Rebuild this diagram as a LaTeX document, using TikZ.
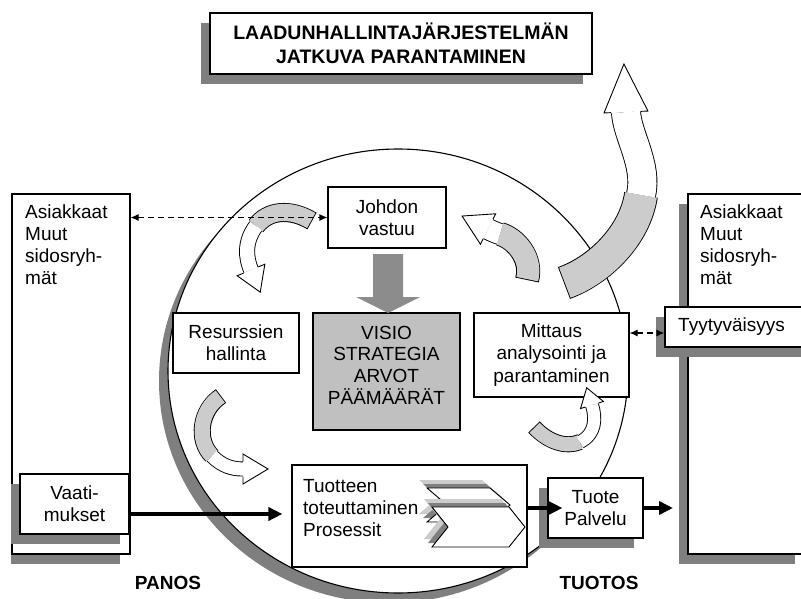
\documentclass[tikz,border=0pt]{standalone}
\usepackage{fontspec}
\setmainfont{Liberation Sans}
\usetikzlibrary{calc,arrows.meta,shadows}
\definecolor{shgray}{HTML}{7F7F7F}
\definecolor{arrgray}{HTML}{CCCCCC}
\definecolor{visgray}{HTML}{C0C0C0}
\definecolor{bigarr}{HTML}{8C8C8C}

% curved block arrow: uses coordinates aS,aC1,aC2,aM,aC3,aC4,aE
% #1 width of grey part, #2 width of white part, #3 half band width at end,
% #4 half head width, #5 head length
\newcommand{\curvarrow}[5]{%
  \draw[line width=#1, black] (aS) .. controls (aC1) and (aC2) .. (aM);
  \draw[line width=#2, black] (aM) .. controls (aC3) and (aC4) .. (aE);
  \draw[line width=#1-1.8pt, arrgray, shorten <=0.9pt] (aS) .. controls (aC1) and (aC2) .. (aM);
  \draw[line width=#2-1.8pt, white] (aM) .. controls (aC3) and (aC4) .. (aE);
  \coordinate (bL) at ($(aE)!#3!90:(aC4)$);
  \coordinate (bR) at ($(aE)!#3!-90:(aC4)$);
  \coordinate (hL) at ($(aE)!#4!90:(aC4)$);
  \coordinate (hR) at ($(aE)!#4!-90:(aC4)$);
  \coordinate (hT) at ($(aE)!-#5!(aC4)$);
  \fill[white] (hL) -- (hT) -- (hR) -- cycle;
  \draw[line width=0.9pt, line join=miter] (bL) -- (hL) -- (hT) -- (hR) -- (bR);
}
% chevron: #1,#2 top-left, #3 body length, #4 point depth, #5 half height, #6 options
\newcommand{\chevron}[6]{%
  \draw[#6] (#1,#2) -- ++(#3,0) -- ++(#4,#5) -- ++(-#4,#5) -- ++(-#3,0) -- ++(#4,-#5) -- cycle;
}

\begin{document}
\begin{tikzpicture}[x=1pt,y=-1pt,
  txt/.style={font=\fontsize{19}{22}\selectfont},
  box/.style={draw=black, line width=1.1pt, fill=white, txt, inner sep=0pt, align=center},
  shbox/.style={box, drop shadow={shadow xshift=-9pt, shadow yshift=-10pt, fill=shgray, opacity=1}},
  fatarrow/.style={line width=3.5pt, -{Triangle[length=14pt,width=13pt]}},
  dasharrow/.style={line width=1.1pt, dash pattern=on 6pt off 4pt,
     {Latex[length=8pt,width=7pt]}-{Latex[length=8pt,width=7pt]}},
  lbl/.style={font=\bfseries\fontsize{19}{22}\selectfont, inner sep=0pt}]
\useasboundingbox (0,0) rectangle (801,599);

% title
\node[shbox, line width=2pt, minimum width=382pt, minimum height=61pt,
  font=\bfseries\fontsize{19.5}{24.5}\selectfont] (title) at (401,43.5)
  {LAADUNHALLINTAJÄRJESTELMÄN\\JATKUVA PARANTAMINEN};

% big circle
\fill[shgray] (389,381) ellipse [x radius=230pt, y radius=222pt];
\draw[line width=1.1pt, fill=white] (398,371) ellipse [x radius=230pt, y radius=222pt];

% left stakeholders box
\fill[shgray] (11,204) rectangle (120,564);
\node[box, minimum width=118pt, minimum height=360pt] (leftbox) at (71,374) {};
\node[txt, anchor=north west, align=left, inner sep=0pt] (lefttxt) at (25,205)
  {Asiakkaat\\Muut\\sidosryh-\\mät};
\node[shbox, minimum width=109pt, minimum height=60pt] (vaati) at (74.5,504) {Vaati-\\mukset};

% right stakeholders box
\node[shbox, minimum width=116pt, minimum height=360pt] (rightbox) at (746,374) {};
\node[txt, anchor=north west, align=left, inner sep=0pt] (righttxt) at (700,205)
  {Asiakkaat\\Muut\\sidosryh-\\mät};
\node[shbox, minimum width=145pt, minimum height=40pt] (tyyty) at (737.5,327) {};
\node[txt, anchor=west, inner sep=0pt] (tyytytxt) at (678,327) {Tyytyväisyys};

% inner boxes
\node[box, minimum width=118pt, minimum height=61pt] (johdon) at (387,217.5) {Johdon\\vastuu};
\node[box, minimum width=126pt, minimum height=60pt] (resurssi) at (236,343) {Resurssien\\hallinta};
\node[box, fill=visgray, minimum width=147pt, minimum height=117pt] (visio) at (386.5,371.5) {};
\node[txt, align=center, inner sep=0pt, font=\fontsize{19}{21.7}\selectfont] (visiotxt) at (386.5,365)
  {VISIO\\STRATEGIA\\ARVOT\\PÄÄMÄÄRÄT};
\node[box, minimum width=155pt, minimum height=84pt, font=\fontsize{19}{22.5}\selectfont] (mittaus) at (551.5,355)
  {Mittaus\\analysointi ja\\parantaminen};
\node[box, minimum width=235pt, minimum height=102pt] (tuotteen) at (409.5,516) {};
\node[txt, anchor=west, align=left, inner sep=0pt] (tuotteentxt) at (303,508)
  {Tuotteen\\toteuttaminen\\Prosessit};
\node[shbox, minimum width=95pt, minimum height=60pt] (tuote) at (595.5,508) {Tuote\\Palvelu};

% process chevrons
\chevron{419}{480}{63}{20}{17}{fill=arrgray, draw=none}
\chevron{423}{484}{63}{20}{17}{fill=shgray, draw=none}
\chevron{427}{488}{63}{20}{17}{fill=white, draw=black, line width=0.9pt}
\chevron{424}{499}{77}{16}{20}{fill=arrgray, draw=none}
\chevron{428}{503}{77}{16}{20}{fill=shgray, draw=none}
\chevron{432}{507}{77}{16}{20}{fill=white, draw=black, line width=0.9pt}

% big grey down arrow
\fill[bigarr] (373,254) -- (403,254) -- (403,297) -- (420,297) -- (388,313) -- (356,297) -- (373,297) -- cycle;

% curved arrows
% A: Johdon -> Resurssien
\coordinate (aS) at (312,221); \coordinate (aC1) at (290,208); \coordinate (aC2) at (268,210);
\coordinate (aM) at (256,226); \coordinate (aC3) at (244,242); \coordinate (aC4) at (246,258);
\coordinate (aE) at (251,270);
\curvarrow{19pt}{16pt}{8pt}{15pt}{24pt}
% B: towards Johdon from right
\coordinate (aS) at (527,280); \coordinate (aC1) at (533,258); \coordinate (aC2) at (515,238);
\coordinate (aM) at (500,234); \coordinate (aC3) at (496,233); \coordinate (aC4) at (492,231);
\coordinate (aE) at (488,229);
\curvarrow{24pt}{22pt}{11pt}{17pt}{29pt}
% C: big arrow up to title
\coordinate (aS) at (564,283); \coordinate (aC1) at (600,270); \coordinate (aC2) at (635,235);
\coordinate (aM) at (641,195); \coordinate (aC3) at (648,165); \coordinate (aC4) at (627,135);
\coordinate (aE) at (626,112);
\curvarrow{34pt}{30pt}{15pt}{22pt}{48pt}
% D: into Mittaus from below
\coordinate (aS) at (534,427); \coordinate (aC1) at (548,442); \coordinate (aC2) at (566,448);
\coordinate (aM) at (580,442); \coordinate (aC3) at (596,434); \coordinate (aC4) at (596,418);
\coordinate (aE) at (592,405);
\curvarrow{16pt}{14pt}{7pt}{12pt}{18pt}
% E: Resurssien -> Tuotteen
\coordinate (aS) at (221,396); \coordinate (aC1) at (200,410); \coordinate (aC2) at (196,440);
\coordinate (aM) at (212,456); \coordinate (aC3) at (222,466); \coordinate (aC4) at (232,469);
\coordinate (aE) at (243,469);
\curvarrow{17pt}{15pt}{7.5pt}{15pt}{25pt}

% dashed connectors
\draw[dasharrow] (leftbox.east |- johdon.west) -- (johdon.west);
\draw[dasharrow] ($(mittaus.east)+(0,-22)$) -- ($(tyyty.west)+(0,6)$);

% flow arrows
\draw[fatarrow, shorten >=9pt] ($(vaati.east)+(0,10)$) -- ($(tuotteen.west |- vaati.east)+(0,10)$);
\draw[fatarrow, shorten >=-15pt] (tuotteen.east |- tuote.west) -- (tuote.west);
\coordinate (outend) at (673,508);
\draw[fatarrow] (tuote.east) -- (outend);

% labels
\node[lbl] (panos) at (168,582.5) {PANOS};
\node[lbl] (tuotos) at (599,582.5) {TUOTOS};
\end{tikzpicture}
\end{document}
